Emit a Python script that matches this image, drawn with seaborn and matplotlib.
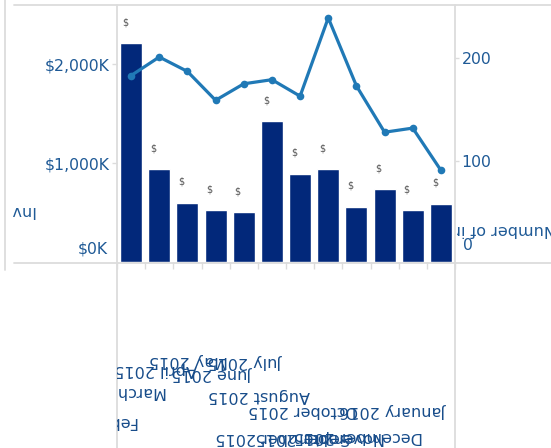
import numpy as np
import pandas as pd
import matplotlib
matplotlib.use("Agg")
import matplotlib.pyplot as plt
import seaborn as sns
from matplotlib.lines import Line2D
from matplotlib.transforms import Bbox
from matplotlib.ticker import FuncFormatter, FixedLocator

# ---------------- data ----------------
months = ["February 2015", "March 2015", "April 2015", "May 2015", "June 2015",
          "July 2015", "August 2015", "September 2015", "October 2015",
          "November 2015", "December 2015", "January 2016"]
invoice_amount_k = [2212, 939, 599, 525, 505, 1424, 889, 939, 556, 737, 525, 586]
invoice_count = [183, 201, 187, 159, 175, 179, 163, 239, 173, 128, 132, 91]
left_ticks = [1000, 2000]
right_ticks = [100, 200]
left_title = "Invoice Amount"
right_title = "Number of invoices"

# ---------------- layout / style ----------------
W, H = 551, 448
BAR = "#02287a"
LINE = "#2079b6"
AXC = "#1f5a96"
MONC = "#174c8a"
GRID = "#dcdcdc"
# scattered (upside-down) month label placement: right end x, centre y (pixels)
label_layout = [(139, 421), (167, 391), (197, 370), (228, 360), (253, 373),
                (283, 361), (310, 395), (350, 437), (358, 410), (385, 437),
                (423, 436), (447, 410)]

sns.set_style("white")
plt.rcParams["font.family"] = ["DejaVu Sans"]

fig = plt.figure(figsize=(W / 100, H / 100), dpi=100)
fig.patch.set_facecolor("white")


def fx(x):
    return x / W


def fy(y):
    return 1 - y / H


ax = fig.add_axes([fx(117), fy(262), (455 - 117) / W, (262 - 5) / H])
df = pd.DataFrame({"month": months, "amount": invoice_amount_k,
                   "count": invoice_count, "pos": np.arange(len(months))})

sns.barplot(data=df, x="month", y="amount", color=BAR, saturation=1,
            width=0.78, ax=ax)
ax.set_xlim(-0.5, len(months) - 0.5)
ax.set_ylim(0, 2596)

ax2 = ax.twinx()
sns.lineplot(data=df, x="pos", y="count", ax=ax2, color=LINE, linewidth=2.3,
             marker="o", markersize=5.5, markeredgewidth=0)
ax2.set_ylim(2, 251.5)
ax2.set_xlim(-0.5, len(months) - 0.5)

for a in (ax, ax2):
    a.set_xlabel("")
    a.set_ylabel("")
    for s in a.spines.values():
        s.set_visible(False)
    a.patch.set_visible(False)

# x ticks: only small boundary ticks
ax.set_xticks(range(len(months)))
ax.set_xticklabels([])
ax.tick_params(axis="x", which="major", length=0)
ax.xaxis.set_minor_locator(FixedLocator(np.arange(-0.5, len(months), 1.0)))
ax.tick_params(axis="x", which="minor", bottom=True, length=5, width=1,
               color=GRID, direction="out")

# left axis
ax.set_yticks(left_ticks)
ax.yaxis.set_major_formatter(FuncFormatter(lambda v, p: f"${v:,.0f}K"))
ax.tick_params(axis="y", left=True, length=3.6, width=1, color=GRID, pad=1.5,
               labelsize=11.3, labelcolor=AXC)
ax.annotate("$0K", xy=(0, 0), xycoords=("axes fraction", "data"),
            xytext=(-9, 13.5), textcoords="offset pixels", ha="right",
            va="center", fontsize=11.3, color=AXC, annotation_clip=False)

# right axis
ax2.set_yticks(right_ticks)
ax2.yaxis.set_major_formatter(FuncFormatter(lambda v, p: f"{v:.0f}"))
ax2.tick_params(axis="y", right=True, length=3.2, width=1, color=GRID, pad=1.5,
                labelsize=11.3, labelcolor=AXC)
ax2.annotate("0", xy=(1, 0), xycoords=("axes fraction", "data"),
             xytext=(8, 18.5), textcoords="offset pixels", ha="left",
             va="center", fontsize=11.3, color=AXC, annotation_clip=False)

# small "$" marks above bars
for i, v in enumerate(invoice_amount_k):
    ax.annotate("$", xy=(i, v), xytext=(-6, 21), textcoords="offset pixels",
                ha="center", va="center", fontsize=7, color="#555555",
                annotation_clip=False)

# upside-down month labels, clipped to the pane
pane_clip = Bbox.from_extents(117, 0, 455, H)
for m, (rx, cy) in zip(months, label_layout):
    t = fig.text(fx(rx), fy(cy), m, rotation=180, ha="right", va="center",
                 fontsize=11.5, color=MONC)
    t.set_clip_box(pane_clip)
    t.set_clip_on(True)

# upside-down axis titles, clipped
t = fig.text(fx(37), fy(210), left_title, rotation=180, ha="right",
             va="center", fontsize=11.5, color=AXC)
t.set_clip_box(Bbox.from_extents(13, 0, 115, H))
t.set_clip_on(True)
t = fig.text(fx(556), fy(229.5), right_title, rotation=180, ha="right",
             va="center", fontsize=11.5, color=AXC)
t.set_clip_box(Bbox.from_extents(457, 0, W, H))
t.set_clip_on(True)

# frame / divider lines
segs = [((14, 5), (W, 5)), ((5, 0), (5, 270)), ((14, 263), (W, 263)),
        ((117, 5), (117, H)), ((455, 5), (455, H))]
for (x0, y0), (x1, y1) in segs:
    fig.add_artist(Line2D([fx(x0), fx(x1)], [fy(y0), fy(y1)],
                          transform=fig.transFigure, color=GRID, lw=1.3,
                          zorder=0))

fig.savefig("out.png", dpi=100)
